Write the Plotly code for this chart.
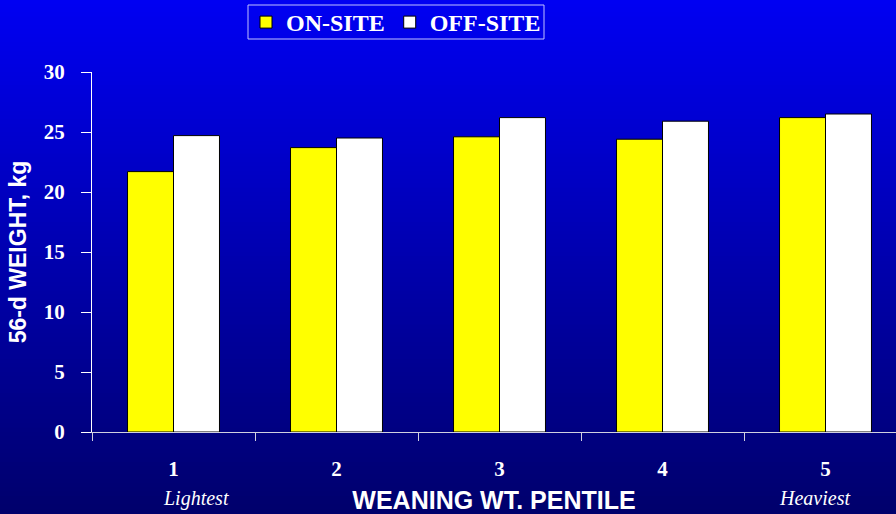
import plotly.graph_objects as go

# data
pentiles = ["1", "2", "3", "4", "5"]
on_site = [21.7, 23.7, 24.6, 24.4, 26.2]
off_site = [24.7, 24.5, 26.2, 25.9, 26.5]

W, H = 896, 514
ml, mr, mt, mb = 92, 0, 72, 82
plot_w = W - ml - mr
plot_h = H - mt - mb

serif = "Liberation Serif"
sans = "Liberation Sans"


def px_x(p):
    return (p - ml) / plot_w


def px_y(p):
    return (plot_h + mt - p) / plot_h


fig = go.Figure()
fig.add_trace(go.Bar(x=pentiles, y=on_site, name="<b>ON-SITE</b>",
                     marker=dict(color="#ffff00", line=dict(color="black", width=1))))
fig.add_trace(go.Bar(x=pentiles, y=off_site, name="<b>OFF-SITE</b>",
                     marker=dict(color="#ffffff", line=dict(color="black", width=1))))

# vertical gradient background, drawn as thin strips behind everything
n = 120
y_top = px_y(0)
y_bot = px_y(H)
c_top = (0, 0, 242)
c_bot = (0, 0, 108)
for i in range(n):
    f = i / (n - 1)
    col = "rgb(%d,%d,%d)" % tuple(round(a + (b - a) * f) for a, b in zip(c_top, c_bot))
    y1 = y_top - (y_top - y_bot) * i / n
    y0 = y_top - (y_top - y_bot) * (i + 1) / n
    fig.add_shape(type="rect", xref="paper", yref="paper", x0=px_x(-5), x1=1.01,
                  y0=y0 - 0.002, y1=y1 + 0.002, fillcolor=col, line_width=0,
                  layer="below")

# legend frame
fig.add_shape(type="rect", xref="paper", yref="paper", x0=px_x(248), x1=px_x(544),
              y0=px_y(39), y1=px_y(5), line=dict(color="#c0c0ff", width=1),
              fillcolor="rgba(0,0,0,0)")

# lightest / heaviest labels under the end categories (x in category index units)
for pos, txt in [(0.14, "Lightest"), (3.93, "Heaviest")]:
    fig.add_annotation(x=pos, xref="x", y=px_y(498), yref="paper", text="<i>%s</i>" % txt,
                       showarrow=False, font=dict(family=serif, size=20, color="white"),
                       yanchor="middle")

# category width 163px -> visible range cut at right edge
cat_px = 163
fig.update_xaxes(range=[-0.5, -0.5 + plot_w / cat_px], showgrid=False, zeroline=False,
                 showline=True, linecolor="#d0d0e0", linewidth=1,
                 ticks="outside", tickson="boundaries", ticklen=8, tickcolor="#d0d0e0",
                 ticklabelstandoff=18, tickprefix="<b>", ticksuffix="</b>",
                 tickfont=dict(family=serif, size=21, color="white"),
                 title=dict(text="<b>WEANING WT. PENTILE</b>", standoff=14,
                            font=dict(family=sans, size=25, color="white")))
fig.update_yaxes(range=[0, 30], dtick=5, showgrid=False, zeroline=False,
                 showline=True, linecolor="white", linewidth=1,
                 ticks="outside", ticklen=10, tickcolor="white", ticklabelstandoff=12,
                 tickfont=dict(family=serif, size=21, color="white"),
                 tickprefix="<b>", ticksuffix="</b>",
                 title=dict(text="<b>56-d WEIGHT, kg</b>", standoff=10,
                            font=dict(family=sans, size=23, color="white")))

fig.update_layout(
    width=W, height=H,
    margin=dict(l=ml, r=mr, t=mt, b=mb, pad=0),
    paper_bgcolor="#0000a0", plot_bgcolor="rgba(0,0,0,0)",
    barmode="group", bargap=0.436, bargroupgap=0,
    showlegend=True,
    legend=dict(orientation="h", x=px_x(396), xanchor="center",
                y=px_y(22), yanchor="middle",
                bgcolor="rgba(0,0,0,0)", borderwidth=0,
                font=dict(family=serif, size=24, color="white"),
                itemwidth=30, tracegroupgap=0, traceorder="normal"),
)

fig.write_html("out.html", config={"displayModeBar": False},
               post_script="document.body.style.margin='0';")
